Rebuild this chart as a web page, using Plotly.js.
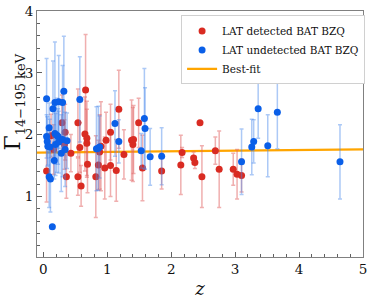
<!DOCTYPE html>
<html>
<head>
<meta charset="utf-8">
<script src="https://cdn.plot.ly/plotly-3.0.1.min.js"></script>
<style>html,body{margin:0;padding:0;background:#fff;}#chart{width:374px;height:299px;}</style>
</head>
<body>
<div id="chart"></div>
<script>
// LAT detected BAT BZQ
const redZ = [0.05,0.12,0.16,0.29,0.34,0.33,0.36,0.43,0.54,0.54,0.57,0.59,0.66,0.65,0.68,0.68,0.69,0.82,0.86,0.88,0.90,0.96,0.98,1.05,1.05,1.14,1.18,1.26,1.38,1.40,1.41,1.49,1.55,1.85,2.15,2.17,2.35,2.37,2.45,2.48,2.69,2.75,2.97,3.03,3.10];
const redG = [1.41,1.98,1.76,2.19,2.04,1.84,1.32,1.70,2.19,1.32,1.79,1.17,2.72,2.01,1.94,1.86,1.52,1.32,1.51,1.72,1.81,1.46,1.91,1.50,2.04,1.42,2.41,1.68,1.91,1.84,1.92,2.19,1.46,1.41,1.51,1.71,1.62,1.55,2.19,1.32,1.74,1.44,1.44,1.36,1.34];
const redErr = [0.5,0.35,0.4,0.45,0.45,0.4,0.35,0.3,0.55,0.3,0.4,0.33,0.9,0.6,0.6,0.55,0.46,0.66,0.4,0.6,0.72,0.5,0.45,0.5,0.45,0.5,0.63,0.4,0.65,0.6,0.55,0.4,0.53,0.29,0.48,0.08,0.1,0.1,0,0.5,0.22,0.62,0.26,0.4,0.27];
// LAT undetected BAT BZQ
const blueZ = [0.05,0.05,0.06,0.07,0.09,0.09,0.11,0.10,0.14,0.15,0.17,0.18,0.18,0.19,0.21,0.24,0.24,0.23,0.28,0.30,0.30,0.32,0.34,0.37,0.57,0.83,0.86,0.88,1.12,1.18,1.53,1.58,1.59,1.67,1.85,3.10,3.26,3.29,3.36,3.51,3.66,4.64];
const blueG = [2.58,1.97,1.89,1.81,2.11,1.32,1.28,1.80,0.51,2.42,1.58,2.52,2.02,1.84,1.99,2.53,1.88,1.97,1.70,2.52,1.92,2.70,1.76,1.90,2.57,1.77,1.78,1.80,2.18,1.89,1.74,2.26,2.10,1.64,1.65,1.56,1.80,1.89,2.42,1.82,2.36,1.56];
const blueErr = [0.65,0.35,0.4,0.3,0.4,0.5,0.53,0.45,0,0.77,0.3,0.98,0.5,0.5,0.6,0.75,0.5,0.45,0.62,0.6,0.6,0.89,0.6,0.45,0.69,0.68,0.68,0.5,0.53,0.35,0.28,0.81,0.66,0.46,0.46,0.53,0.45,0.35,0.48,0.5,0.59,0.6];
// Best-fit line
const fitZ = [-0.1, 5.0];
const fitG = [1.709, 1.760];

const serif = "DejaVu Serif, Liberation Serif, serif";

const traces = [
  {x: fitZ, y: fitG, mode: 'lines', name: 'Best-fit', legendrank: 3,
   line: {color: '#ffa500', width: 2.2}, hoverinfo: 'skip'},
  {x: redZ, y: redG, mode: 'markers', name: 'LAT detected BAT BZQ', legendrank: 1,
   marker: {color: '#d92b22', size: 7, line: {width: 0}},
   error_y: {type: 'data', array: redErr, visible: true, color: 'rgba(225,95,95,0.5)', thickness: 1.5, width: 2}},
  {x: blueZ, y: blueG, mode: 'markers', name: 'LAT undetected BAT BZQ', legendrank: 2,
   marker: {color: '#0a5fe8', size: 7, line: {width: 0}},
   error_y: {type: 'data', array: blueErr, visible: true, color: 'rgba(70,135,235,0.45)', thickness: 1.5, width: 2}}
];

const axisCommon = {
  showgrid: false, zeroline: false, showline: true, mirror: true,
  linecolor: '#808080', linewidth: 1,
  ticks: 'inside', ticklen: 5, tickwidth: 1, tickcolor: '#606060',
  tickfont: {family: serif, size: 13.5, color: '#111'}
};

const layout = {
  width: 374, height: 299,
  margin: {l: 37, r: 9, t: 11, b: 42},
  paper_bgcolor: '#fff', plot_bgcolor: '#fff',
  showlegend: true,
  legend: {x: 0.442, y: 0.982, xanchor: 'left', yanchor: 'top', itemwidth: 30,
           bgcolor: '#fff', bordercolor: '#d0d0d0', borderwidth: 1,
           font: {family: serif, size: 10.5, color: '#111'}, tracegroupgap: 0},
  xaxis: Object.assign({}, axisCommon, {
    range: [-0.1, 5], dtick: 1, tick0: 0,
    minor: {dtick: 0.2, ticks: 'inside', ticklen: 3, tickcolor: '#606060'},
    title: {text: '<i>z</i>', font: {family: serif, size: 18, color: '#111'}, standoff: 6}
  }),
  yaxis: Object.assign({}, axisCommon, {
    range: [0.02, 4], dtick: 1, tick0: 0,
    minor: {dtick: 0.2, ticks: 'inside', ticklen: 3, tickcolor: '#606060'},
    title: {text: ''}
  }),
  annotations: [{
    text: 'Γ<sub><span style="font-size:13px">14−195 keV</span></sub>', xref: 'paper', yref: 'paper',
    x: -0.069, y: 0.63, xanchor: 'center', yanchor: 'middle', textangle: -90,
    showarrow: false, font: {family: serif, size: 22, color: '#111'}
  }]
};

Plotly.newPlot('chart', traces, layout, {displayModeBar: false, staticPlot: true});
</script>
</body>
</html>
